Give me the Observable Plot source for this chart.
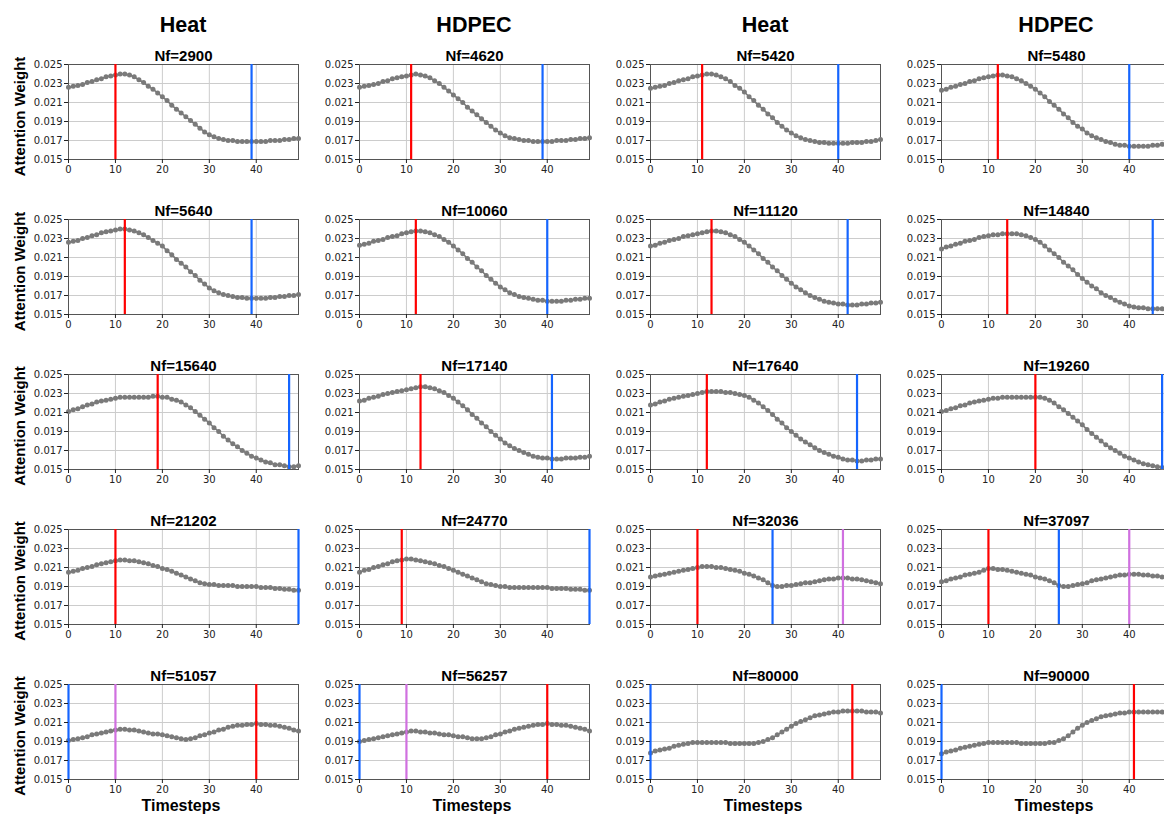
<!DOCTYPE html>
<html><head><meta charset="utf-8">
<script src="https://cdn.jsdelivr.net/npm/d3@7"></script>
<script src="https://cdn.jsdelivr.net/npm/@observablehq/plot@0.6"></script>
<style>
body{margin:0;background:#fff;overflow:hidden}
#wrap{position:relative;width:1164px;height:814px;overflow:hidden;background:#fff}
.panel{position:absolute}
#overlay{position:absolute;left:0;top:0;pointer-events:none}
</style></head>
<body><div id="wrap"></div>
<script>
const xTicks=[0,10,20,30,40];
const yTicks=[0.015,0.017,0.019,0.021,0.023,0.025];
const columnHeaders=["Heat","HDPEC","Heat","HDPEC"];
const titles=["Nf=2900","Nf=4620","Nf=5420","Nf=5480",
"Nf=5640","Nf=10060","Nf=11120","Nf=14840",
"Nf=15640","Nf=17140","Nf=17640","Nf=19260",
"Nf=21202","Nf=24770","Nf=32036","Nf=37097",
"Nf=51057","Nf=56257","Nf=80000","Nf=90000"];
const redAt=[10,11,11,12, 12,12,13,14, 19,13,12,20, 10,9,10,10, 40,40,43,41];
const blueAt=[39,39,40,40, 39,40,42,45, 47,41,44,47, 49,49,26,25, 0,0,0,0];
const violetAt=[null,null,null,null, null,null,null,null, null,null,null,null, null,null,41,40, 10,10,null,null];
const yLabel="Attention Weight";
const xLabel="Timesteps";

const s2900=[0.0226,0.0227,0.0228,0.0229,0.0231,0.0232,0.0234,0.0235,0.0237,0.0238,
0.0239,0.0240,0.0240,0.0239,0.0237,0.0234,0.0231,0.0227,0.0224,0.0220,
0.0216,0.0212,0.0207,0.0203,0.0199,0.0195,0.0191,0.0187,0.0183,0.0179,
0.0176,0.0174,0.0172,0.0171,0.0170,0.0170,0.0169,0.0169,0.0169,0.0169,
0.0169,0.0169,0.0169,0.0170,0.0170,0.0170,0.0171,0.0171,0.0172,0.0172];
const s4620=[0.0226,0.0227,0.0228,0.0229,0.0230,0.0232,0.0233,0.0235,0.0236,0.0237,
0.0238,0.0239,0.0240,0.0239,0.0238,0.0236,0.0233,0.0230,0.0226,0.0222,
0.0218,0.0214,0.0210,0.0205,0.0201,0.0197,0.0193,0.0189,0.0185,0.0181,
0.0178,0.0175,0.0173,0.0172,0.0171,0.0170,0.0170,0.0169,0.0169,0.0169,
0.0169,0.0169,0.0170,0.0170,0.0170,0.0171,0.0171,0.0172,0.0172,0.0173];
const s5420=[0.0225,0.0226,0.0227,0.0228,0.0230,0.0231,0.0233,0.0234,0.0235,0.0237,
0.0238,0.0239,0.0240,0.0240,0.0239,0.0237,0.0235,0.0232,0.0228,0.0225,
0.0221,0.0216,0.0212,0.0207,0.0203,0.0198,0.0194,0.0189,0.0185,0.0181,
0.0178,0.0175,0.0173,0.0171,0.0170,0.0169,0.0168,0.0168,0.0167,0.0167,
0.0167,0.0167,0.0167,0.0168,0.0168,0.0168,0.0169,0.0169,0.0170,0.0171];
const s5480=[0.0223,0.0224,0.0226,0.0227,0.0229,0.0230,0.0232,0.0233,0.0235,0.0236,
0.0237,0.0238,0.0239,0.0239,0.0238,0.0237,0.0235,0.0233,0.0230,0.0227,
0.0224,0.0220,0.0216,0.0211,0.0207,0.0203,0.0198,0.0194,0.0189,0.0185,
0.0182,0.0178,0.0175,0.0173,0.0171,0.0169,0.0168,0.0166,0.0165,0.0165,
0.0164,0.0164,0.0164,0.0164,0.0164,0.0165,0.0165,0.0166,0.0166,0.0167];
const s5640=[0.0226,0.0227,0.0228,0.0230,0.0231,0.0233,0.0234,0.0236,0.0237,0.0238,
0.0239,0.0240,0.0240,0.0239,0.0238,0.0236,0.0234,0.0231,0.0228,0.0225,
0.0222,0.0217,0.0213,0.0208,0.0204,0.0200,0.0195,0.0191,0.0186,0.0182,
0.0178,0.0175,0.0173,0.0171,0.0170,0.0169,0.0168,0.0168,0.0167,0.0167,
0.0167,0.0167,0.0167,0.0168,0.0168,0.0169,0.0169,0.0170,0.0170,0.0171];
const s10060=[0.0223,0.0224,0.0225,0.0227,0.0228,0.0229,0.0231,0.0232,0.0233,0.0235,
0.0236,0.0237,0.0238,0.0238,0.0237,0.0236,0.0234,0.0232,0.0229,0.0226,
0.0222,0.0218,0.0214,0.0209,0.0205,0.0200,0.0196,0.0191,0.0187,0.0183,
0.0179,0.0176,0.0173,0.0171,0.0169,0.0168,0.0167,0.0166,0.0165,0.0165,
0.0164,0.0164,0.0164,0.0164,0.0165,0.0165,0.0166,0.0166,0.0167,0.0167];
const s11120=[0.0222,0.0223,0.0225,0.0226,0.0228,0.0229,0.0230,0.0232,0.0233,0.0234,
0.0235,0.0236,0.0237,0.0238,0.0238,0.0237,0.0236,0.0234,0.0232,0.0229,
0.0226,0.0222,0.0218,0.0214,0.0209,0.0205,0.0200,0.0196,0.0191,0.0187,
0.0183,0.0179,0.0176,0.0173,0.0170,0.0168,0.0166,0.0164,0.0163,0.0162,
0.0161,0.0161,0.0160,0.0160,0.0160,0.0161,0.0161,0.0162,0.0162,0.0163];
const s14840=[0.0219,0.0221,0.0222,0.0224,0.0225,0.0227,0.0228,0.0229,0.0231,0.0232,
0.0233,0.0234,0.0234,0.0235,0.0235,0.0235,0.0235,0.0234,0.0233,0.0231,
0.0229,0.0226,0.0222,0.0218,0.0214,0.0210,0.0205,0.0201,0.0197,0.0192,
0.0188,0.0184,0.0180,0.0177,0.0173,0.0170,0.0168,0.0165,0.0163,0.0161,
0.0159,0.0158,0.0157,0.0157,0.0156,0.0156,0.0156,0.0156,0.0156,0.0156];
const s15640=[0.0211,0.0213,0.0214,0.0216,0.0218,0.0219,0.0221,0.0222,0.0223,0.0224,
0.0225,0.0226,0.0226,0.0226,0.0226,0.0226,0.0226,0.0226,0.0227,0.0227,
0.0226,0.0226,0.0224,0.0223,0.0221,0.0218,0.0215,0.0211,0.0207,0.0203,
0.0199,0.0194,0.0190,0.0185,0.0181,0.0177,0.0174,0.0170,0.0167,0.0164,
0.0162,0.0160,0.0158,0.0157,0.0155,0.0155,0.0154,0.0153,0.0153,0.0154];
const s17140=[0.0222,0.0223,0.0225,0.0226,0.0227,0.0229,0.0230,0.0231,0.0232,0.0233,
0.0234,0.0235,0.0236,0.0237,0.0237,0.0236,0.0235,0.0233,0.0231,0.0228,
0.0225,0.0221,0.0217,0.0213,0.0208,0.0204,0.0199,0.0195,0.0190,0.0186,
0.0182,0.0178,0.0175,0.0172,0.0170,0.0168,0.0166,0.0164,0.0163,0.0162,
0.0162,0.0161,0.0161,0.0161,0.0162,0.0162,0.0162,0.0163,0.0163,0.0164];
const s17640=[0.0218,0.0219,0.0221,0.0222,0.0224,0.0225,0.0226,0.0227,0.0228,0.0229,
0.0230,0.0231,0.0232,0.0232,0.0232,0.0232,0.0231,0.0231,0.0230,0.0229,
0.0228,0.0226,0.0223,0.0220,0.0216,0.0212,0.0208,0.0203,0.0199,0.0194,
0.0190,0.0186,0.0182,0.0179,0.0176,0.0173,0.0170,0.0168,0.0166,0.0164,
0.0163,0.0161,0.0160,0.0160,0.0159,0.0159,0.0160,0.0160,0.0161,0.0161];
const s19260=[0.0211,0.0212,0.0214,0.0215,0.0217,0.0218,0.0220,0.0221,0.0222,0.0223,
0.0224,0.0225,0.0225,0.0226,0.0226,0.0226,0.0226,0.0226,0.0226,0.0226,
0.0226,0.0226,0.0225,0.0223,0.0220,0.0216,0.0213,0.0209,0.0205,0.0201,
0.0197,0.0192,0.0188,0.0184,0.0180,0.0176,0.0173,0.0170,0.0167,0.0164,
0.0162,0.0160,0.0158,0.0156,0.0155,0.0154,0.0153,0.0152,0.0152,0.0152];
const s21202=[0.0205,0.0206,0.0207,0.0209,0.0210,0.0211,0.0213,0.0214,0.0215,0.0216,
0.0217,0.0218,0.0218,0.0217,0.0217,0.0216,0.0215,0.0214,0.0212,0.0211,
0.0209,0.0208,0.0206,0.0204,0.0202,0.0200,0.0198,0.0196,0.0194,0.0193,
0.0192,0.0192,0.0191,0.0191,0.0191,0.0191,0.0190,0.0190,0.0190,0.0190,
0.0190,0.0189,0.0189,0.0189,0.0188,0.0188,0.0187,0.0187,0.0186,0.0186];
const s24770=[0.0205,0.0207,0.0208,0.0210,0.0211,0.0213,0.0214,0.0216,0.0217,0.0218,
0.0219,0.0219,0.0218,0.0217,0.0216,0.0215,0.0214,0.0212,0.0211,0.0209,
0.0207,0.0205,0.0203,0.0201,0.0199,0.0197,0.0195,0.0193,0.0192,0.0191,
0.0190,0.0190,0.0189,0.0189,0.0189,0.0189,0.0189,0.0189,0.0189,0.0189,
0.0189,0.0188,0.0188,0.0188,0.0188,0.0187,0.0187,0.0187,0.0186,0.0186];
const s32036=[0.0200,0.0201,0.0202,0.0203,0.0204,0.0205,0.0206,0.0207,0.0208,0.0209,
0.0210,0.0211,0.0211,0.0211,0.0210,0.0210,0.0209,0.0208,0.0207,0.0206,
0.0204,0.0203,0.0201,0.0199,0.0197,0.0194,0.0191,0.0190,0.0190,0.0191,
0.0191,0.0192,0.0193,0.0194,0.0194,0.0195,0.0196,0.0197,0.0198,0.0198,
0.0199,0.0199,0.0199,0.0198,0.0198,0.0197,0.0196,0.0195,0.0194,0.0193];
const s37097=[0.0195,0.0196,0.0198,0.0199,0.0200,0.0202,0.0203,0.0204,0.0205,0.0207,
0.0209,0.0209,0.0208,0.0208,0.0207,0.0206,0.0205,0.0204,0.0203,0.0202,
0.0200,0.0199,0.0198,0.0196,0.0194,0.0191,0.0190,0.0190,0.0191,0.0192,
0.0193,0.0194,0.0196,0.0197,0.0198,0.0199,0.0200,0.0201,0.0202,0.0202,
0.0203,0.0203,0.0203,0.0202,0.0202,0.0201,0.0201,0.0200,0.0200,0.0199];
const s51057=[0.0191,0.0192,0.0193,0.0194,0.0195,0.0197,0.0198,0.0199,0.0200,0.0201,
0.0202,0.0203,0.0203,0.0202,0.0202,0.0201,0.0200,0.0199,0.0198,0.0198,
0.0197,0.0196,0.0195,0.0194,0.0193,0.0192,0.0193,0.0194,0.0196,0.0197,
0.0199,0.0200,0.0202,0.0203,0.0205,0.0206,0.0207,0.0207,0.0208,0.0208,
0.0209,0.0208,0.0208,0.0207,0.0207,0.0206,0.0205,0.0204,0.0202,0.0201];
const s56257=[0.0190,0.0191,0.0192,0.0193,0.0194,0.0195,0.0196,0.0197,0.0198,0.0199,
0.0200,0.0201,0.0201,0.0200,0.0200,0.0199,0.0199,0.0198,0.0197,0.0197,
0.0196,0.0195,0.0195,0.0194,0.0193,0.0193,0.0193,0.0194,0.0195,0.0197,
0.0198,0.0200,0.0201,0.0203,0.0204,0.0205,0.0206,0.0207,0.0208,0.0208,
0.0209,0.0208,0.0208,0.0207,0.0207,0.0206,0.0205,0.0204,0.0203,0.0201];
const s80000=[0.0178,0.0180,0.0181,0.0182,0.0183,0.0185,0.0186,0.0187,0.0188,0.0189,
0.0189,0.0189,0.0189,0.0189,0.0189,0.0189,0.0189,0.0188,0.0188,0.0188,
0.0188,0.0188,0.0188,0.0189,0.0190,0.0192,0.0194,0.0197,0.0200,0.0203,
0.0206,0.0209,0.0211,0.0213,0.0215,0.0217,0.0218,0.0219,0.0220,0.0221,
0.0221,0.0222,0.0222,0.0222,0.0222,0.0222,0.0221,0.0221,0.0221,0.0220];
const s90000=[0.0177,0.0179,0.0180,0.0181,0.0183,0.0184,0.0185,0.0186,0.0187,0.0188,
0.0189,0.0189,0.0189,0.0189,0.0189,0.0189,0.0189,0.0188,0.0188,0.0188,
0.0188,0.0188,0.0188,0.0189,0.0189,0.0191,0.0193,0.0196,0.0200,0.0204,
0.0207,0.0210,0.0212,0.0214,0.0216,0.0217,0.0218,0.0219,0.0220,0.0220,
0.0221,0.0221,0.0221,0.0221,0.0221,0.0221,0.0221,0.0221,0.0220,0.0220];

const series=[s2900,s4620,s5420,s5480,s5640,s10060,s11120,s14840,s15640,s17140,s17640,s19260,
s21202,s24770,s32036,s37097,s51057,s56257,s80000,s90000];

const colLeft=[68,359,650,941];
const rowTop=[64,219,373.5,528.5,683.5];
const PW=230, PH=95, ML=45, MR=5, MT=22, MB=27;
const wrap=document.getElementById("wrap");

series.forEach((vals,i)=>{
  const c=i%4, r=Math.floor(i/4);
  const pts=vals.map((v,t)=>({t,v}));
  const rules=[Plot.ruleX([redAt[i]],{stroke:"#ff0000",strokeWidth:2.2})];
  rules.push(Plot.ruleX([blueAt[i]],{stroke:"#1565ff",strokeWidth:2.2}));
  if(violetAt[i]!=null) rules.push(Plot.ruleX([violetAt[i]],{stroke:"#d070e0",strokeWidth:2.2}));
  const chart=Plot.plot({
    width:ML+PW+MR, height:MT+PH+MB,
    marginLeft:ML, marginRight:MR, marginTop:MT, marginBottom:MB,
    x:{domain:[0,49]}, y:{domain:[0.015,0.025]},
    style:{fontFamily:"DejaVu Sans",fontSize:"10px",color:"#222",background:"transparent",overflow:"visible"},
    marks:[
      Plot.ruleX(xTicks,{stroke:"#cccccc",strokeWidth:1}),
      Plot.ruleY(yTicks,{stroke:"#cccccc",strokeWidth:1}),
      Plot.frame({stroke:"#555",strokeWidth:1}),
      Plot.line(pts,{x:"t",y:"v",stroke:"#7a7a7a",strokeWidth:1.6}),
      Plot.dot(pts,{x:"t",y:"v",r:2.5,fill:"#7a7a7a",stroke:null}),
      ...rules,
      Plot.axisX({ticks:xTicks,tickSize:4,tickPadding:2,label:null}),
      Plot.axisY({ticks:yTicks,tickFormat:d3.format(".3f"),tickSize:4,tickPadding:2,label:null}),
      Plot.text([titles[i]],{text:d=>d,frameAnchor:"top",dy:-4,lineAnchor:"bottom",fontSize:15,fontWeight:"bold",fontFamily:"Liberation Sans",fill:"#000"})
    ]
  });
  chart.classList.add("panel");
  chart.style.left=(colLeft[c]-ML)+"px";
  chart.style.top=(rowTop[r]-MT)+"px";
  wrap.appendChild(chart);
});

const ov=d3.select(wrap).append("svg").attr("id","overlay").attr("width",1164).attr("height",814)
  .style("font-family","Liberation Sans").style("font-weight","bold");
columnHeaders.forEach((h,c)=>{
  ov.append("text").attr("x",colLeft[c]+PW/2).attr("y",31.5).attr("text-anchor","middle")
    .attr("font-size",21.5).attr("fill","#000").text(h);
  ov.append("text").attr("x",colLeft[c]+PW/2-2).attr("y",811).attr("text-anchor","middle")
    .attr("font-size",16).attr("fill","#000").text(xLabel);
});
rowTop.forEach(t=>{
  const cy=t+PH/2+5;
  ov.append("text").attr("transform",`translate(24.5,${cy}) rotate(-90)`).attr("text-anchor","middle")
    .attr("font-size",15).attr("fill","#000").text(yLabel);
});
</script></body></html>
